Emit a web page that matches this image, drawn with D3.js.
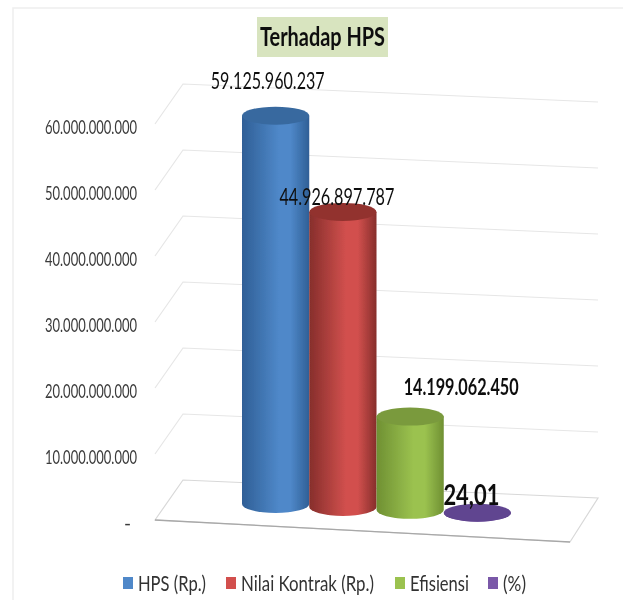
<!DOCTYPE html>
<html>
<head>
<meta charset="utf-8">
<script src="https://cdn.jsdelivr.net/npm/d3@7"></script>
<style>
html, body { margin: 0; padding: 0; background: #fff; }
svg { display: block; }
text { font-family: Lato, "Liberation Sans", sans-serif; }
</style>
</head>
<body>
<svg width="623" height="600"></svg>
<script>
const categories = ['HPS (Rp.)', 'Nilai Kontrak (Rp.)', 'Efisiensi', '(%)']
const values = [59125960237, 44926897787, 14199062450, 24.01]
const valueLabels = ['59.125.960.237', '44.926.897.787', '14.199.062.450', '24,01']
const yTicks = [0, 10e9, 20e9, 30e9, 40e9, 50e9, 60e9]
const yTickLabels = ['-', '10.000.000.000', '20.000.000.000', '30.000.000.000', '40.000.000.000', '50.000.000.000', '60.000.000.000']
const titleText = 'Terhadap HPS'

const svg = d3.select('svg')

// colours per series: edge, middle, top cap
const colors = [
	{edge: '#2f5f96', mid: '#4f88c9', cap: '#38699f'},
	{edge: '#862e2b', mid: '#d2504e', cap: '#92322f'},
	{edge: '#6f9033', mid: '#9bc24f', cap: '#7a9a3e'},
	{edge: '#5b3f85', mid: '#7a58a8', cap: '#604490'}
]

// where the labels sit relative to the top of each cylinder
const labelOffset = [
	{dx: -8, dy: -35, size: 23, weight: 'normal', len: 114},
	{dx: -6, dy: -15, size: 23, weight: 'normal', len: 115},
	{dx: 51, dy: -29, size: 22, weight: 'bold', len: 115},
	{dx: -6, dy: -18, size: 28, weight: 'bold', len: 56}
]

const legendX = [123, 226, 395, 488]
const legendLen = [68, 133, 59, 23]

const xScale = d3.scaleBand()
	.domain(categories)
	.range([242, 511])

const yScale = d3.scaleLinear()
	.domain([0, 60e9])
	.range([520, 124])

// the fake 3D box
const left = 155
const depth = {x: 28, y: -40}
const backRight = 598
const floorDrop = 18
const floorSlope = 18 / 415

const defs = svg.append('defs')
defs.append('filter')
	.attr('id', 'soft')
	.attr('filterUnits', 'userSpaceOnUse')
	.attr('x', 0).attr('y', 0)
	.attr('width', 623).attr('height', 600)
	.append('feGaussianBlur')
	.attr('stdDeviation', 0.45)

categories.forEach((c, i) => {
	const grad = defs.append('linearGradient')
		.attr('id', 'cyl' + i)
	grad.append('stop').attr('offset', '0%').attr('stop-color', colors[i].edge)
	grad.append('stop').attr('offset', '55%').attr('stop-color', colors[i].mid)
	grad.append('stop').attr('offset', '72%').attr('stop-color', colors[i].mid)
	grad.append('stop').attr('offset', '100%').attr('stop-color', colors[i].edge)
})

const g = svg.append('g').attr('filter', 'url(#soft)')

// frame
g.append('path')
	.attr('d', 'M13,600V8H623')
	.attr('fill', 'none')
	.attr('stroke', '#eeeeee')
	.attr('stroke-width', 1.5)

// gridlines
g.append('g').selectAll('path')
	.data(yTicks.slice(1))
	.enter()
	.append('path')
	.attr('d', d => {
		const y = yScale(d)
		return `M${left},${y}L${left + depth.x},${y + depth.y}L${backRight},${y + depth.y + floorDrop}`
	})
	.attr('fill', 'none')
	.attr('stroke', '#e6e6e6')
	.attr('stroke-width', 1.2)

// floor
const y0 = yScale(0)
g.append('path')
	.attr('d', `M${left},${y0}L${left + depth.x},${y0 + depth.y}L${backRight},${y0 + depth.y + floorDrop}L${backRight - depth.x},${y0 - depth.y - floorDrop}Z`)
	.attr('fill', '#fff')
	.attr('stroke', '#d8d8d8')
	.attr('stroke-width', 1.2)

g.append('line')
	.attr('x1', left).attr('y1', y0)
	.attr('x2', backRight - depth.x).attr('y2', y0 - depth.y - floorDrop)
	.attr('stroke', '#a8a8a8')
	.attr('stroke-width', 1.3)

// y axis
const yAxis = d3.axisLeft(yScale)
	.tickValues(yTicks)
	.tickSize(0)
	.tickPadding(0)
	.tickFormat((d, i) => yTickLabels[i])

g.append('g')
	.attr('transform', 'translate(137, 3)')
	.call(yAxis)
	.call(a => a.select('.domain').remove())
	.selectAll('text')
	.attr('font-size', 19)
	.attr('fill', '#3a3a3a')
	.style('font-family', 'Lato, sans-serif')
	.attr('x', d => d === 0 ? -6 : 0)
	.attr('textLength', d => d === 0 ? null : 92)
	.attr('lengthAdjust', 'spacingAndGlyphs')

// cylinders, left to right
const rx = xScale.bandwidth() / 2
const ry = 9
const baseY = c => 504 + floorSlope * (xScale(c) - xScale(categories[0]))
const height = v => (yScale(0) - yScale(v)) * 0.995

const bars = g.selectAll('.bar')
	.data(categories)
	.enter()
	.append('g')
	.attr('class', 'bar')

bars.append('path')
	.attr('d', (c, i) => {
		const x = xScale(c)
		const base = baseY(c)
		const top = base - height(values[i])
		return `M${x},${top}V${base}A${rx},${ry} 0 0 0 ${x + 2 * rx},${base}V${top}Z`
	})
	.attr('fill', (c, i) => `url(#cyl${i})`)

bars.append('ellipse')
	.attr('cx', c => xScale(c) + rx)
	.attr('cy', (c, i) => baseY(c) - height(values[i]))
	.attr('rx', rx)
	.attr('ry', ry)
	.attr('fill', (c, i) => colors[i].cap)

// value labels
g.selectAll('.bartext')
	.data(categories)
	.enter()
	.append('text')
	.attr('class', 'bartext')
	.text((c, i) => valueLabels[i])
	.attr('x', (c, i) => xScale(c) + rx + labelOffset[i].dx)
	.attr('y', (c, i) => baseY(c) - height(values[i]) + labelOffset[i].dy)
	.attr('dy', '0.35em')
	.attr('text-anchor', 'middle')
	.attr('font-size', (c, i) => labelOffset[i].size)
	.attr('font-weight', (c, i) => labelOffset[i].weight)
	.attr('textLength', (c, i) => labelOffset[i].len)
	.attr('lengthAdjust', 'spacingAndGlyphs')
	.attr('fill', '#111')

// title
g.append('rect')
	.attr('x', 257).attr('y', 17)
	.attr('width', 131).attr('height', 40)
	.attr('fill', '#d8e4bf')

g.append('text')
	.text(titleText)
	.attr('x', 322.5).attr('y', 37)
	.attr('dy', '0.35em')
	.attr('text-anchor', 'middle')
	.attr('font-size', 27)
	.attr('font-weight', 'bold')
	.attr('textLength', 125)
	.attr('lengthAdjust', 'spacingAndGlyphs')
	.attr('fill', '#111')

// legend
const legend = g.selectAll('.legend')
	.data(categories)
	.enter()
	.append('g')
	.attr('class', 'legend')
	.attr('transform', (c, i) => `translate(${legendX[i]}, 583)`)

legend.append('rect')
	.attr('y', -6)
	.attr('width', 10)
	.attr('height', 12)
	.attr('fill', (c, i) => colors[i].mid)

legend.append('text')
	.text(c => c)
	.attr('x', 15)
	.attr('dy', '0.35em')
	.attr('font-size', 22)
	.attr('textLength', (c, i) => legendLen[i])
	.attr('lengthAdjust', 'spacingAndGlyphs')
	.attr('fill', '#333')
</script>
</body>
</html>
